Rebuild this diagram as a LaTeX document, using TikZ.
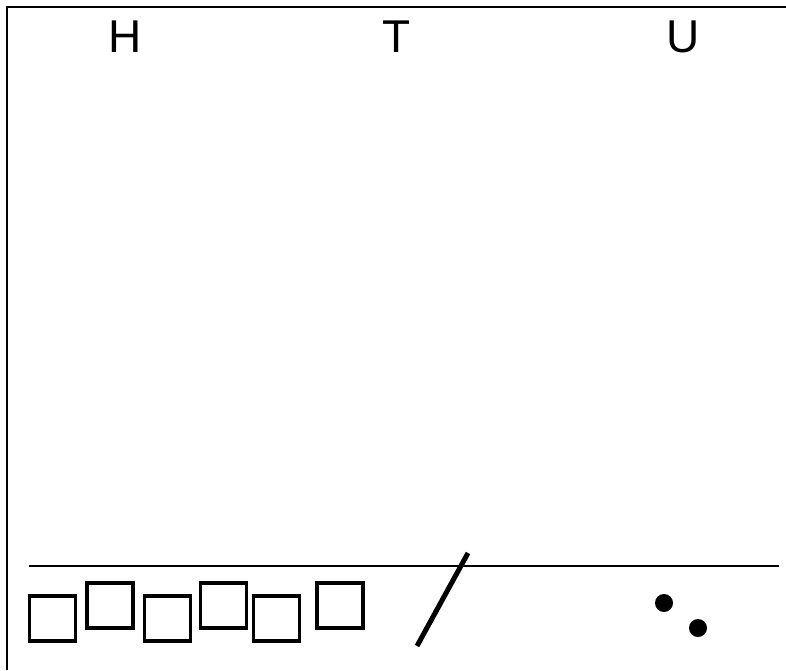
\documentclass[tikz,border=0pt]{standalone}
\usepackage{fontspec}
\setmainfont{Liberation Sans}
\begin{document}
\begin{tikzpicture}[x=1pt,y=-1pt,
  lbl/.style={font=\fontsize{46}{46}\selectfont, inner sep=0pt, anchor=base},
  sq/.style={draw, line width=3.5pt, minimum width=46pt, minimum height=45pt, inner sep=0pt},
  dot/.style={circle, fill, inner sep=0pt, minimum size=18pt}]
\useasboundingbox (0,0) rectangle (786,670);
\draw[line width=2pt] (7,670) -- (7,7) -- (786,7);
\coordinate (hl) at (29,566);
\coordinate (hr) at (779,566);
\draw[line width=1.3pt] (hl) -- (hr);
\node[lbl] (H) at (125,52) {H};
\node[lbl] (T) at (397,52) {T};
\node[lbl] (U) at (683,52) {U};
\node[sq] (s1) at (52.5,618.5) {};
\node[sq] (s2) at (110,605.5) {};
\node[sq] (s3) at (167.5,618.5) {};
\node[sq] (s4) at (223.5,605.5) {};
\node[sq] (s5) at (276.5,618.5) {};
\node[sq] (s6) at (340,605.5) {};
\coordinate (a) at (468,553);
\coordinate (b) at (417,646);
\draw[line width=5pt] (a) -- (b);
\node[dot] (d1) at (664,603) {};
\node[dot] (d2) at (698,628) {};
\end{tikzpicture}
\end{document}
